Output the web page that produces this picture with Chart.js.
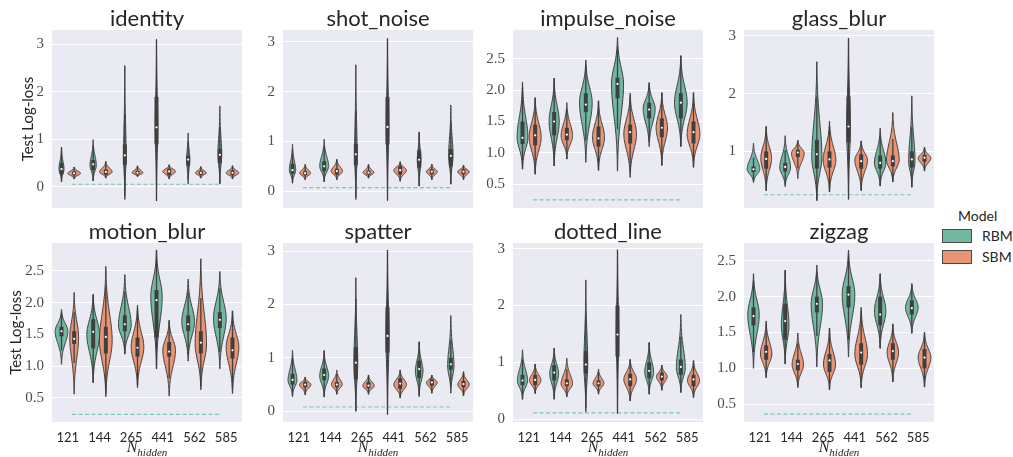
<!DOCTYPE html>
<html>
<head>
<meta charset="utf-8">
<script src="https://cdn.jsdelivr.net/npm/chart.js@4.4.1/dist/chart.umd.min.js"></script>
<style>
  body { margin: 0; width: 1013px; height: 457px; background: #fff; overflow: hidden; position: relative; font-family: Lato, sans-serif; color: #262626; }
  canvas { position: absolute; }
  .legend-title { position: absolute; left: 958px; top: 207px; font-size: 14px; }
  .legend-patch { position: absolute; left: 942px; width: 28px; height: 12px; border: 1px solid #4a4a4a; }
  .legend-label { position: absolute; left: 982px; font-size: 14px; line-height: 16px; }
</style>
</head>
<body>
<div class="legend-title">Model</div>
<div class="legend-patch" style="top:229px; background: rgb(114,183,161)"></div>
<div class="legend-label" style="top:228px">RBM</div>
<div class="legend-patch" style="top:250px; background: rgb(233,149,117)"></div>
<div class="legend-label" style="top:249px">SBM</div>

<script>
// each violin: [min, q1, median, q3, max, mode, relative width]
const nHidden = ['121', '144', '265', '441', '562', '585'];
const panelNames = ['identity', 'shot_noise', 'impulse_noise', 'glass_blur', 'motion_blur', 'spatter', 'dotted_line', 'zigzag'];

const identityRBM = [
    [0.10, 0.26, 0.37, 0.50, 0.83, 0.37, 0.40],
    [0.12, 0.35, 0.47, 0.56, 0.99, 0.45, 0.50],
    [-0.27, 0.46, 0.66, 0.89, 2.55, 0.66, 0.20],
    [-0.30, 0.89, 1.25, 1.89, 3.10, 1.25, 0.20],
    [0.06, 0.45, 0.57, 0.65, 1.13, 0.57, 0.25],
    [0.06, 0.50, 0.67, 0.80, 1.70, 0.67, 0.30]
];
const identitySBM = [
    [0.16, 0.24, 0.28, 0.32, 0.415, 0.28, 1.0],
    [0.18, 0.25, 0.31, 0.36, 0.53, 0.31, 1.0],
    [0.21, 0.26, 0.29, 0.33, 0.44, 0.29, 0.85],
    [0.16, 0.24, 0.32, 0.38, 0.46, 0.32, 1.0],
    [0.18, 0.25, 0.29, 0.33, 0.42, 0.29, 0.85],
    [0.16, 0.24, 0.29, 0.34, 0.44, 0.29, 1.0]
];
const shotRBM = [
    [0.16, 0.35, 0.42, 0.55, 0.94, 0.42, 0.50],
    [0.19, 0.40, 0.50, 0.60, 1.04, 0.50, 0.70],
    [-0.17, 0.52, 0.74, 0.95, 2.54, 0.74, 0.20],
    [-0.19, 0.94, 1.29, 1.89, 3.07, 1.29, 0.20],
    [0.10, 0.47, 0.63, 0.82, 1.19, 0.63, 0.30],
    [0.14, 0.50, 0.71, 0.85, 1.73, 0.71, 0.35]
];
const shotSBM = [
    [0.23, 0.32, 0.36, 0.40, 0.54, 0.36, 0.85],
    [0.23, 0.33, 0.40, 0.45, 0.64, 0.40, 0.90],
    [0.26, 0.33, 0.37, 0.41, 0.54, 0.37, 0.85],
    [0.20, 0.33, 0.42, 0.50, 0.59, 0.42, 1.0],
    [0.23, 0.34, 0.39, 0.44, 0.54, 0.39, 0.85],
    [0.23, 0.34, 0.39, 0.44, 0.52, 0.39, 0.90]
];
const impulseRBM = [
    [0.74, 1.14, 1.24, 1.50, 2.13, 1.25, 0.85],
    [0.79, 1.28, 1.50, 1.65, 2.19, 1.50, 0.80],
    [0.85, 1.65, 1.77, 1.95, 2.48, 1.80, 1.0],
    [0.71, 1.87, 2.10, 2.20, 2.84, 2.10, 0.95],
    [1.10, 1.55, 1.69, 1.80, 2.12, 1.70, 0.95],
    [1.10, 1.55, 1.80, 1.95, 2.55, 1.80, 1.0]
];
const impulseSBM = [
    [0.66, 1.12, 1.28, 1.45, 1.88, 1.25, 0.95],
    [0.90, 1.20, 1.29, 1.40, 1.80, 1.27, 0.90],
    [0.72, 1.10, 1.23, 1.42, 1.83, 1.25, 0.95],
    [0.61, 1.15, 1.33, 1.45, 1.95, 1.30, 1.0],
    [0.80, 1.25, 1.40, 1.55, 1.96, 1.40, 0.90],
    [0.77, 1.15, 1.33, 1.50, 1.96, 1.30, 1.0]
];
const glassRBM = [
    [0.46, 0.64, 0.69, 0.74, 1.14, 0.69, 1.0],
    [0.39, 0.65, 0.73, 0.80, 1.27, 0.72, 0.85],
    [0.15, 0.70, 0.95, 1.20, 2.55, 0.90, 0.80],
    [0.17, 1.15, 1.43, 1.95, 2.96, 1.40, 0.30],
    [0.40, 0.70, 0.80, 0.93, 1.40, 0.80, 0.90],
    [0.38, 0.72, 0.86, 1.00, 1.96, 0.83, 0.50]
];
const glassSBM = [
    [0.32, 0.70, 0.87, 1.00, 1.43, 0.88, 0.85],
    [0.53, 0.90, 0.98, 1.03, 1.19, 0.97, 1.0],
    [0.30, 0.72, 0.86, 1.00, 1.52, 0.85, 1.0],
    [0.32, 0.70, 0.83, 0.95, 1.18, 0.85, 1.0],
    [0.47, 0.74, 0.83, 0.93, 1.67, 0.85, 1.0],
    [0.66, 0.82, 0.89, 0.94, 1.07, 0.88, 1.0]
];
const motionRBM = [
    [1.03, 1.47, 1.55, 1.62, 1.89, 1.55, 1.0],
    [0.74, 1.28, 1.54, 1.74, 2.13, 1.50, 1.0],
    [1.19, 1.55, 1.66, 1.80, 2.44, 1.65, 1.0],
    [0.96, 1.45, 2.04, 2.20, 2.83, 2.10, 0.90],
    [1.08, 1.55, 1.66, 1.80, 2.37, 1.70, 1.0],
    [0.96, 1.60, 1.73, 1.85, 2.49, 1.75, 1.0]
];
const motionSBM = [
    [0.56, 1.35, 1.43, 1.55, 2.16, 1.45, 0.70],
    [0.52, 1.20, 1.46, 1.62, 2.57, 1.40, 1.0],
    [0.66, 1.15, 1.29, 1.45, 1.96, 1.30, 1.0],
    [0.53, 1.15, 1.23, 1.38, 1.72, 1.25, 1.0],
    [0.63, 1.20, 1.37, 1.55, 2.69, 1.35, 0.90],
    [0.57, 1.12, 1.25, 1.45, 1.87, 1.30, 1.0]
];
const spatterRBM = [
    [0.28, 0.50, 0.59, 0.70, 1.14, 0.58, 0.70],
    [0.27, 0.58, 0.68, 0.80, 1.14, 0.66, 0.70],
    [0.00, 0.60, 0.91, 1.20, 2.50, 0.90, 0.30],
    [-0.06, 1.10, 1.41, 1.95, 3.02, 1.40, 0.25],
    [0.28, 0.62, 0.79, 0.95, 1.30, 0.75, 0.60],
    [0.34, 0.78, 0.88, 1.00, 1.79, 0.85, 0.50]
];
const spatterSBM = [
    [0.31, 0.45, 0.50, 0.55, 0.64, 0.50, 0.90],
    [0.32, 0.45, 0.50, 0.55, 0.77, 0.50, 0.85],
    [0.32, 0.43, 0.48, 0.55, 0.68, 0.48, 0.90],
    [0.25, 0.42, 0.52, 0.62, 0.77, 0.50, 1.0],
    [0.34, 0.48, 0.54, 0.60, 0.68, 0.54, 0.85],
    [0.29, 0.45, 0.51, 0.57, 0.74, 0.50, 0.90]
];
const dottedRBM = [
    [0.35, 0.60, 0.68, 0.78, 1.22, 0.68, 0.80],
    [0.35, 0.68, 0.82, 0.95, 1.25, 0.80, 0.70],
    [0.13, 0.80, 0.96, 1.20, 2.45, 0.96, 0.30],
    [0.10, 1.10, 1.49, 2.00, 2.98, 1.49, 0.20],
    [0.44, 0.72, 0.85, 1.00, 1.35, 0.83, 0.70],
    [0.47, 0.78, 0.92, 1.05, 1.84, 0.90, 0.70]
];
const dottedSBM = [
    [0.45, 0.60, 0.69, 0.78, 0.97, 0.68, 0.90],
    [0.39, 0.58, 0.63, 0.70, 1.07, 0.62, 0.90],
    [0.44, 0.58, 0.63, 0.68, 0.88, 0.63, 0.85],
    [0.32, 0.58, 0.70, 0.80, 1.05, 0.70, 1.0],
    [0.51, 0.68, 0.75, 0.82, 0.95, 0.75, 0.85],
    [0.38, 0.58, 0.70, 0.78, 1.03, 0.68, 0.95]
];
const zigzagRBM = [
    [1.00, 1.60, 1.73, 1.85, 2.32, 1.75, 0.90],
    [1.06, 1.40, 1.66, 1.90, 2.37, 1.60, 0.60],
    [1.02, 1.78, 1.90, 2.00, 2.44, 1.90, 0.90],
    [1.16, 1.85, 2.03, 2.15, 2.65, 2.03, 1.0],
    [1.28, 1.60, 1.75, 2.00, 2.32, 1.80, 0.90],
    [1.49, 1.75, 1.84, 1.95, 2.18, 1.85, 1.0]
];
const zigzagSBM = [
    [0.87, 1.12, 1.23, 1.32, 1.66, 1.20, 0.90],
    [0.73, 0.97, 1.06, 1.12, 1.49, 1.05, 0.90],
    [0.70, 0.95, 1.11, 1.20, 1.56, 1.05, 0.95],
    [0.73, 1.05, 1.22, 1.35, 1.85, 1.20, 1.0],
    [0.81, 1.12, 1.24, 1.35, 1.62, 1.22, 0.90],
    [0.74, 1.00, 1.15, 1.27, 1.50, 1.15, 1.0]
];

const refLoss = [0.05, 0.07, 0.25, 0.25, 0.24, 0.08, 0.11, 0.36];
const refSpan = [0.13, 4.85];
const yTicks = [[0, 1, 2, 3], [0, 1, 2, 3], [0.5, 1, 1.5, 2, 2.5], [1, 2, 3],
                [0.5, 1, 1.5, 2, 2.5], [0, 1, 2, 3], [0, 1, 2, 3], [0.5, 1, 1.5, 2, 2.5]];
const yRange = [[-0.45, 3.3], [-0.34, 3.24], [0.12, 2.96], [0.02, 3.1],
                [0.12, 2.94], [-0.2, 3.15], [-0.05, 3.1], [0.25, 2.75]];

const rbmData = [identityRBM, shotRBM, impulseRBM, glassRBM, motionRBM, spatterRBM, dottedRBM, zigzagRBM];
const sbmData = [identitySBM, shotSBM, impulseSBM, glassSBM, motionSBM, spatterSBM, dottedSBM, zigzagSBM];

const RBM_COLOR = 'rgb(114,183,161)';
const SBM_COLOR = 'rgb(233,149,117)';
const LINE_COLOR = '#3f3f3f';

// layout of the plot areas
const plotLefts = [52, 283, 513, 744];
const plotW = 190;
const rowTops = [30, 243];
const rowHeights = [180, 179];

function drawViolin(ctx, xs, ys, xv, v, color) {
    const [lo, q1, med, q3, hi, mode, w] = v;
    const cx = xs.getPixelForValue(xv);
    const half = (xs.getPixelForValue(xv + 0.2) - cx) * w;
    const pts = [];
    for (let k = 0; k <= 60; k++) {
        const val = lo + (hi - lo) * k / 60;
        const span = val < mode ? mode - lo : hi - mode;
        const t = span > 0 ? (val - mode) / span : 0;
        pts.push([ys.getPixelForValue(val), half * Math.exp(-4 * t * t)]);
    }
    ctx.beginPath();
    pts.forEach(([py, hw], k) => k ? ctx.lineTo(cx - hw, py) : ctx.moveTo(cx - hw, py));
    for (let k = pts.length - 1; k >= 0; k--) ctx.lineTo(cx + pts[k][1], pts[k][0]);
    ctx.closePath();
    ctx.fillStyle = color;
    ctx.fill();
    ctx.strokeStyle = LINE_COLOR;
    ctx.lineWidth = 1;
    ctx.stroke();

    // inner box: whiskers at 1.5 IQR, thick bar for the quartiles
    const iqr = q3 - q1;
    const wLo = Math.max(lo, q1 - 1.5 * iqr);
    const wHi = Math.min(hi, q3 + 1.5 * iqr);
    ctx.beginPath();
    ctx.moveTo(cx, ys.getPixelForValue(wLo));
    ctx.lineTo(cx, ys.getPixelForValue(wHi));
    ctx.lineWidth = 1.3;
    ctx.stroke();
    ctx.beginPath();
    ctx.moveTo(cx, ys.getPixelForValue(q1));
    ctx.lineTo(cx, ys.getPixelForValue(q3));
    ctx.lineWidth = 4;
    ctx.stroke();
}

const panelPlugin = {
    id: 'panel',
    beforeDraw(chart) {
        const { ctx, chartArea: a } = chart;
        ctx.save();
        ctx.fillStyle = '#eaeaf2';
        ctx.fillRect(a.left, a.top, a.width, a.height);
        ctx.restore();
    },
    // violins go on top of the dashed reference line, under the median dots
    afterDatasetDraw(chart, args) {
        if (args.index !== 1) return;
        const { ctx, chartArea: a, scales: { x, y } } = chart;
        const p = chart.options.plugins.panel;
        ctx.save();
        ctx.beginPath();
        ctx.rect(a.left, a.top, a.width, a.height);
        ctx.clip();
        p.rbm.forEach((v, i) => drawViolin(ctx, x, y, i - 0.2, v, RBM_COLOR));
        p.sbm.forEach((v, i) => drawViolin(ctx, x, y, i + 0.2, v, SBM_COLOR));
        ctx.restore();
    },
    afterDraw(chart) {
        const { ctx, chartArea: a } = chart;
        const p = chart.options.plugins.panel;
        const cx = (a.left + a.right) / 2;
        ctx.save();
        ctx.fillStyle = '#262626';
        ctx.textAlign = 'center';
        ctx.textBaseline = 'alphabetic';
        ctx.font = '22px Lato';
        ctx.fillText(p.title, cx, a.top - 4);

        if (p.xLabel) {
            ctx.textAlign = 'left';
            ctx.font = 'italic 16px "Liberation Serif"';
            const wN = ctx.measureText('N').width;
            ctx.font = 'italic 11px "Liberation Serif"';
            const wSub = ctx.measureText('hidden').width;
            const x0 = cx - (wN + wSub) / 2;
            ctx.font = 'italic 16px "Liberation Serif"';
            ctx.fillText('N', x0, a.bottom + 30);
            ctx.font = 'italic 11px "Liberation Serif"';
            ctx.fillText('hidden', x0 + wN, a.bottom + 34);
        }
        ctx.restore();
    }
};

panelNames.forEach((name, i) => {
    const col = i % 4;
    const row = Math.floor(i / 4);
    const yAxisW = col === 0 ? 52 : 40;
    const bottomH = row === 0 ? 2 : 34;
    const canvas = document.createElement('canvas');
    const w = yAxisW + plotW + 4;
    const h = 30 + rowHeights[row] + bottomH;
    canvas.width = w;
    canvas.height = h;
    canvas.style.left = (plotLefts[col] - yAxisW) + 'px';
    canvas.style.top = (rowTops[row] - 30) + 'px';
    canvas.style.width = w + 'px';
    canvas.style.height = h + 'px';
    document.body.appendChild(canvas);

    const ticks = yTicks[i];
    const dec = ticks.some(t => t % 1) ? 1 : 0;
    const rbm = rbmData[i];
    const sbm = sbmData[i];

    new Chart(canvas, {
        type: 'scatter',
        data: {
            datasets: [
                {
                    label: 'median',
                    data: rbm.map((v, k) => ({ x: k - 0.2, y: v[2] }))
                        .concat(sbm.map((v, k) => ({ x: k + 0.2, y: v[2] }))),
                    pointRadius: 1.1,
                    pointBackgroundColor: '#ffffff',
                    pointBorderWidth: 0
                },
                {
                    type: 'line',
                    label: 'reference',
                    data: refSpan.map(x => ({ x: x, y: refLoss[i] })),
                    borderColor: '#78c8ae',
                    borderWidth: 1.1,
                    borderDash: [4, 2.5],
                    pointRadius: 0,
                    fill: false
                }
            ]
        },
        options: {
            responsive: false,
            animation: false,
            devicePixelRatio: 1,
            layout: { padding: { top: 30, right: 4, bottom: 0, left: 0 } },
            plugins: {
                legend: { display: false },
                tooltip: { enabled: false },
                title: { display: false },
                panel: { title: name, rbm: rbm, sbm: sbm, xLabel: row === 1 }
            },
            scales: {
                x: {
                    type: 'linear',
                    min: -0.5,
                    max: 5.5,
                    grid: { display: false, drawTicks: false },
                    border: { display: false },
                    ticks: {
                        display: row === 1,
                        padding: 8,
                        color: '#262626',
                        font: { family: 'Lato', size: 13 },
                        callback: (v) => nHidden[v]
                    },
                    afterBuildTicks: (s) => { s.ticks = nHidden.map((_, k) => ({ value: k })); },
                    afterFit: (s) => { s.height = bottomH; s.paddingLeft = 0; s.paddingRight = 0; }
                },
                y: {
                    min: yRange[i][0],
                    max: yRange[i][1],
                    grid: { color: '#ffffff', lineWidth: 1, drawTicks: false },
                    border: { display: false },
                    ticks: {
                        padding: 8,
                        color: '#4d4d4d',
                        font: { family: 'Liberation Serif', size: 15 },
                        callback: (v) => v.toFixed(dec)
                    },
                    title: {
                        display: col === 0,
                        text: 'Test Log-loss',
                        color: '#262626',
                        font: { family: 'Lato', size: 15 },
                        padding: { top: row === 0 ? 19 : 7, bottom: 0 }
                    },
                    afterBuildTicks: (s) => { s.ticks = ticks.map(t => ({ value: t })); },
                    afterFit: (s) => { s.width = yAxisW; s.paddingTop = 0; s.paddingBottom = 0; }
                }
            }
        },
        plugins: [panelPlugin]
    });
});
</script>
</body>
</html>
